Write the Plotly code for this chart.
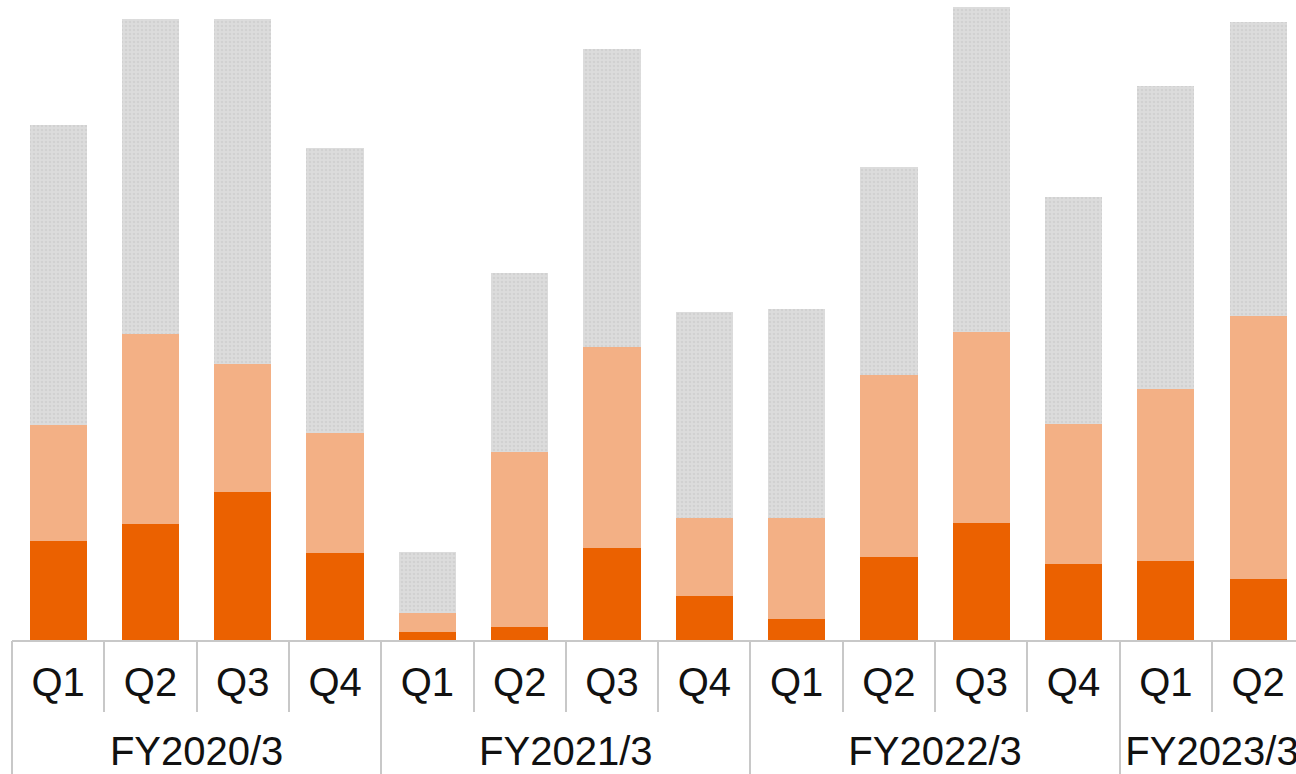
import plotly.graph_objects as go

# Fiscal years and quarters
fiscal_years = ["FY2020/3"] * 4 + ["FY2021/3"] * 4 + ["FY2022/3"] * 4 + ["FY2023/3"] * 2
quarters = ["Q1", "Q2", "Q3", "Q4"] * 3 + ["Q1", "Q2"]
year_labels = ["FY2020/3", "FY2021/3", "FY2022/3", "FY2023/3"]

# Stacked segment values, bottom to top
segment_dark = [15.4, 18.1, 23.2, 13.6, 1.2, 2.0, 14.3, 6.8, 3.3, 12.9, 18.3, 11.8, 12.3, 9.6]
segment_light = [18.2, 29.7, 19.9, 18.8, 3.0, 27.3, 31.5, 12.3, 15.7, 28.5, 29.9, 22.0, 26.9, 41.1]
segment_grey = [46.8, 49.3, 53.9, 44.4, 9.6, 28.1, 46.6, 32.2, 32.7, 32.5, 50.7, 35.4, 47.4, 45.8]

# One unique category per quarter; the axis shows only the quarter name
keys = [f"{fy} {q}" for fy, q in zip(fiscal_years, quarters)]

# Fiscal-year groups on the category index scale: centres and boundaries
group_centres, group_edges = [], []
for fy in year_labels:
    idx = [i for i, v in enumerate(fiscal_years) if v == fy]
    group_centres.append((idx[0] + idx[-1]) / 2)
    group_edges.append(idx[0] - 0.5)

x_range = [-0.5, 13.41]
grid_grey = "#C8C8C8"
font_family = "Arial, Liberation Sans, sans-serif"

fig = go.Figure()
fig.add_trace(go.Bar(x=keys, y=segment_dark, marker=dict(color="#EB6100", line=dict(width=0))))
fig.add_trace(go.Bar(x=keys, y=segment_light, marker=dict(color="#F3B085", line=dict(width=0))))
fig.add_trace(go.Bar(
    x=keys, y=segment_grey,
    marker=dict(
        color="#DADADA",
        line=dict(width=0),
        pattern=dict(shape=".", fgcolor="#C6C6C6", bgcolor="#DCDCDC", size=4, solidity=0.35),
    ),
))
# Empty series that attaches the fiscal-year axis to the plot
fig.add_trace(go.Scatter(
    x=group_centres, y=[None] * len(group_centres), xaxis="x2", mode="markers",
    showlegend=False, hoverinfo="skip",
))

fig.update_layout(
    width=1296,
    height=774,
    barmode="stack",
    bargap=0.38,
    showlegend=False,
    plot_bgcolor="white",
    paper_bgcolor="white",
    margin=dict(l=12, r=0, t=0, b=134, pad=0),
    font=dict(family=font_family, size=40, color="#111111"),
    xaxis=dict(
        type="category",
        range=x_range,
        tickvals=keys,
        ticktext=quarters,
        showline=True,
        linecolor=grid_grey,
        linewidth=2,
        ticks="outside",
        tickson="boundaries",
        ticklen=70,
        tickwidth=2,
        tickcolor=grid_grey,
        ticklabelstandoff=6,
        ticklabeloverflow="allow",
        showgrid=False,
        automargin=False,
        tickfont=dict(family=font_family, size=40, color="#111111"),
    ),
    xaxis2=dict(
        type="linear",
        overlaying="x",
        anchor="y",
        side="bottom",
        range=x_range,
        tickmode="array",
        tickvals=group_centres,
        ticktext=year_labels,
        ticks="",
        ticklabelstandoff=84,
        ticklabeloverflow="allow",
        showline=False,
        showgrid=False,
        zeroline=False,
        automargin=False,
        tickfont=dict(family=font_family, size=40, color="#111111"),
        minor=dict(
            tickmode="array",
            tickvals=group_edges,
            ticks="outside",
            ticklen=140,
            tickwidth=2,
            tickcolor=grid_grey,
            showgrid=False,
        ),
    ),
    yaxis=dict(visible=False, range=[0, 100], showgrid=False, zeroline=False, automargin=False),
)

fig.write_html("out.html")
